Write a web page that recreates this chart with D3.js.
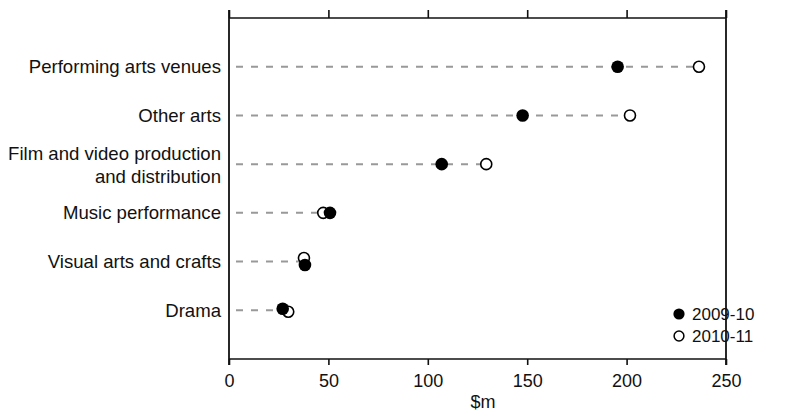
<!DOCTYPE html>
<html>
<head>
<meta charset="utf-8">
<script src="https://cdn.jsdelivr.net/npm/d3@7"></script>
<style>
  html, body { margin: 0; padding: 0; background: #fff; }
  svg { display: block; }
  text { font-family: "Liberation Sans", Arial, sans-serif; fill: #111; }
</style>
</head>
<body>
<svg id="chart" width="791" height="412"></svg>
<script>
// ---- data ----
const categories = [
  "Performing arts venues",
  "Other arts",
  "Film and video production|and distribution",
  "Music performance",
  "Visual arts and crafts",
  "Drama"
];
const values2009 = [195.5, 147.7, 107.0, 50.8, 38.2, 27.0];
const values2010 = [236.4, 201.7, 129.4, 47.4, 37.7, 29.8];
const seriesNames = ["2009-10", "2010-11"];
const xTicks = [0, 50, 100, 150, 200, 250];
const xTitle = "$m";

// ---- layout ----
const plotL = 229, plotR = 726, plotT = 18, plotB = 359;
const svg = d3.select("#chart");

const x = d3.scaleLinear().domain([0, 250]).range([plotL, plotR]);
const y = d3.scalePoint().domain(categories).range([plotT, plotB]).padding(1);

// small vertical separation for overlapping markers (rendering only)
const nudge = {"Visual arts and crafts": [3.5, -3.5], "Drama": [-1.5, 1.5]};

// dashed guide lines
svg.append("g").selectAll("line").data(categories).join("line")
  .attr("x1", plotL)
  .attr("x2", (d, i) => x(Math.max(values2009[i], values2010[i])))
  .attr("y1", d => y(d)).attr("y2", d => y(d))
  .attr("stroke", "#999").attr("stroke-width", 2)
  .attr("stroke-dasharray", "7,8")
  .attr("stroke-dashoffset", -7);

// axes
const topAxis = d3.axisTop(x).tickValues(xTicks).tickSize(8).tickFormat("");
const gTop = svg.append("g").attr("transform", `translate(0,${plotT})`).call(topAxis);
const bottomAxis = d3.axisBottom(x).tickValues(xTicks).tickSize(6).tickPadding(9.5).tickFormat(d3.format("d"));
const gBot = svg.append("g").attr("transform", `translate(0,${plotB})`).call(bottomAxis);
[gTop, gBot].forEach(g => {
  g.select(".domain").remove();
  g.selectAll(".tick line").attr("stroke", "#111").attr("stroke-width", 1.6);
  g.selectAll(".tick text").attr("font-size", 18).attr("fill", "#111")
    .attr("font-family", "Liberation Sans, Arial, sans-serif");
});
// frame lines
svg.append("line").attr("x1", plotL).attr("x2", plotR).attr("y1", plotT).attr("y2", plotT)
  .attr("stroke", "#111").attr("stroke-width", 1.6);
svg.append("line").attr("x1", plotL).attr("x2", plotR).attr("y1", plotB).attr("y2", plotB)
  .attr("stroke", "#111").attr("stroke-width", 1.6);
svg.append("line").attr("x1", plotL).attr("x2", plotL).attr("y1", plotT - 8).attr("y2", plotB + 6)
  .attr("stroke", "#111").attr("stroke-width", 1.8);
svg.append("line").attr("x1", plotR).attr("x2", plotR).attr("y1", plotT - 8).attr("y2", plotB + 6)
  .attr("stroke", "#111").attr("stroke-width", 1.8);

// category labels
const labels = svg.append("g").selectAll("text").data(categories).join("text")
  .attr("x", plotL - 8)
  .attr("y", d => y(d))
  .attr("text-anchor", "end")
  .attr("font-size", 18.6)
  .attr("dominant-baseline", "central");
labels.each(function(d) {
  const parts = d.split("|");
  const t = d3.select(this);
  if (parts.length === 1) { t.text(d); return; }
  t.append("tspan").attr("x", plotL - 8).attr("dy", "-0.62em").text(parts[0]);
  t.append("tspan").attr("x", plotL - 8).attr("dy", "1.26em").text(parts[1]);
});

// markers: hollow (2010-11) first, filled (2009-10) on top
svg.append("g").selectAll("circle").data(categories).join("circle")
  .attr("cx", (d, i) => x(values2010[i]))
  .attr("cy", d => y(d) + (nudge[d] ? nudge[d][1] : 0))
  .attr("r", 5.5)
  .attr("fill", "#fff").attr("stroke", "#000").attr("stroke-width", 1.6);
svg.append("g").selectAll("circle").data(categories).join("circle")
  .attr("cx", (d, i) => x(values2009[i]))
  .attr("cy", d => y(d) + (nudge[d] ? nudge[d][0] : 0))
  .attr("r", 6.3)
  .attr("fill", "#000");

// legend
const lg = svg.append("g");
seriesNames.forEach((name, i) => {
  const cy = 314 + i * 22;
  lg.append("circle").attr("cx", 679).attr("cy", cy)
    .attr("r", i === 0 ? 5.6 : 4.9)
    .attr("fill", i === 0 ? "#000" : "#fff")
    .attr("stroke", "#000").attr("stroke-width", i === 0 ? 0 : 1.5);
  lg.append("text").attr("x", 692).attr("y", cy).attr("dominant-baseline", "central")
    .attr("font-size", 17).text(name);
});

// axis title
svg.append("text").attr("x", 483).attr("y", 408).attr("text-anchor", "middle")
  .attr("font-size", 18).text(xTitle);
</script>
</body>
</html>
